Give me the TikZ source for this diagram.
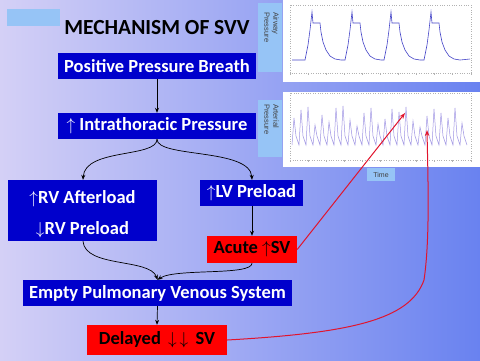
\documentclass[tikz,border=0pt]{standalone}
\usepackage{fontspec}
\setmainfont{Carlito}
\newfontfamily\chartfont{Liberation Sans}
\usetikzlibrary{arrows.meta}
\definecolor{boxblue}{RGB}{0,0,204}
\definecolor{boxred}{RGB}{255,0,0}
\definecolor{bgleft}{RGB}{212,208,246}
\definecolor{bgright}{RGB}{105,130,240}
\definecolor{lblblue}{RGB}{150,196,246}
\definecolor{airline}{RGB}{70,70,200}
\definecolor{artline}{RGB}{160,150,228}
\definecolor{redline}{RGB}{225,20,45}
\begin{document}
\begin{tikzpicture}[x=1pt,y=-1pt,
  bluebox/.style={draw=none,fill=boxblue,text=white,inner sep=0pt,font=\fontsize{18.5}{21}\selectfont\bfseries,align=center},
  redbox/.style={draw=none,fill=boxred,text=black,inner sep=0pt,font=\fontsize{18.5}{21}\selectfont\bfseries,align=center},
  flow/.style={-{Stealth[length=5pt,width=4pt]},black,line width=0.7pt},
  redarrow/.style={-{Stealth[length=6pt,width=4.5pt]},redline,line width=1pt},
  chartbox/.style={fill=lblblue,inner sep=0pt},
  charttext/.style={inner sep=0pt,text=black!75,font=\chartfont\fontsize{7.5}{9}\selectfont,align=left},
  frame/.style={draw=gray!60,dotted,line width=0.4pt}]
\useasboundingbox (0,0) rectangle (480,360);
\shade[left color=bgleft,right color=bgright] (0,0) rectangle (480,360);
\fill[lblblue] (7,9) rectangle (60,26);

% charts
\fill[white] (283,0) rectangle (480,82);
\fill[white] (283,92) rectangle (480,167);
\draw[frame] (290,5) rectangle (471,73);
\draw[frame] (290,93) rectangle (471,160);
\foreach \x in {290,308,326,344,362,380,398,416,434,452,471}{
  \draw[gray!60,line width=0.3pt] (\x,73) -- (\x,75);
  \draw[gray!60,line width=0.3pt] (\x,160) -- (\x,162);}
\node[chartbox,minimum width=24pt,minimum height=69pt] (abox) at (270,37.5) {};
\node[charttext,rotate=-90,anchor=west] (alab) at (271.5,12) {Airway\\Pressure};
\node[chartbox,minimum width=24pt,minimum height=57pt] (pbox) at (270,128.5) {};
\node[charttext,rotate=-90,anchor=west] (plab) at (271.5,104) {Arterial\\Pressure};
\node[chartbox,minimum width=28pt,minimum height=13pt,charttext,font=\chartfont\fontsize{7}{8}\selectfont] (tlab) at (381,174.5) {Time};

% airway pressure waveform
\draw[airline,line width=0.6pt] (292,60)
  \foreach \s in {305,345,384,424}{
    -- (\s,60) -- (\s+3,45) -- (\s+5,30) -- (\s+7,12) -- (\s+8,23) -- (\s+15,23)
    -- (\s+16,32) -- (\s+18,42) -- (\s+21,50) -- (\s+25,56) -- (\s+30,59) -- (\s+36,60)}
  -- (470,59);
% arterial pressure waveform
\draw[artline,line width=0.5pt] (292,145)
  \foreach \p [count=\i] in {118,110,107,125,115,122,108,106,120,126,113,108,124,119,109,112,107,121,127,116,109,113,118,108,123}{
    -- ({292+7*(\i-1)+2},\p) -- ({292+7*(\i-1)+4},136) -- ({292+7*\i},145)};
\coordinate (pk1) at (405,113);
\coordinate (pk2) at (427,130);

% title
\node[font=\fontsize{21.5}{24}\selectfont\bfseries] (title) at (157,28) {MECHANISM OF SVV};

% boxes
\node[bluebox,minimum width=198pt,minimum height=26pt] (ppb) at (157,66) {Positive Pressure Breath};
\node[bluebox,minimum width=198pt,minimum height=26pt] (itp) at (157,126) {$\uparrow$ Intrathoracic Pressure};
\node[bluebox,minimum width=149pt,minimum height=61pt] (rv) at (82.5,210.5) {\rule{0pt}{20pt}$\uparrow$RV Afterload\\[10pt]$\downarrow$RV Preload};
\node[bluebox,minimum width=103pt,minimum height=26pt] (lv) at (251.5,193) {$\uparrow$LV Preload};
\node[redbox,minimum width=90pt,minimum height=27pt] (acute) at (252,249.5) {Acute $\uparrow$SV};
\node[bluebox,minimum width=269pt,minimum height=26pt] (empty) at (157.5,293) {Empty Pulmonary Venous System};
\node[redbox,minimum width=140pt,minimum height=30pt] (delayed) at (157,340) {Delayed\ \,$\downarrow\,\downarrow$\ \,SV};

% flow connectors
\draw[flow] (ppb.south) -- (itp.north);
\draw[flow] (itp.south) .. controls (157,158) and (85,148) .. (rv.north -| 83,0);
\draw[flow] (itp.south) .. controls (157,158) and (250,148) .. (lv.north -| 252,0);
\draw[flow] (lv.south -| 252,0) -- (acute.north);
\draw[flow] (rv.south -| 83,0) .. controls (85,268) and (150,258) .. (empty.north);
\draw[flow] (acute.south) .. controls (252,276) and (175,268) .. (empty.north);
\draw[flow] (empty.south) -- (delayed.north);

% red connectors
\draw[redarrow] (acute.east) -- (pk1);
\draw[redarrow] (delayed.east) .. controls (350,333) and (410,320) .. (424,280)
  .. controls (430,240) and (428,180) .. (pk2);
\end{tikzpicture}
\end{document}
